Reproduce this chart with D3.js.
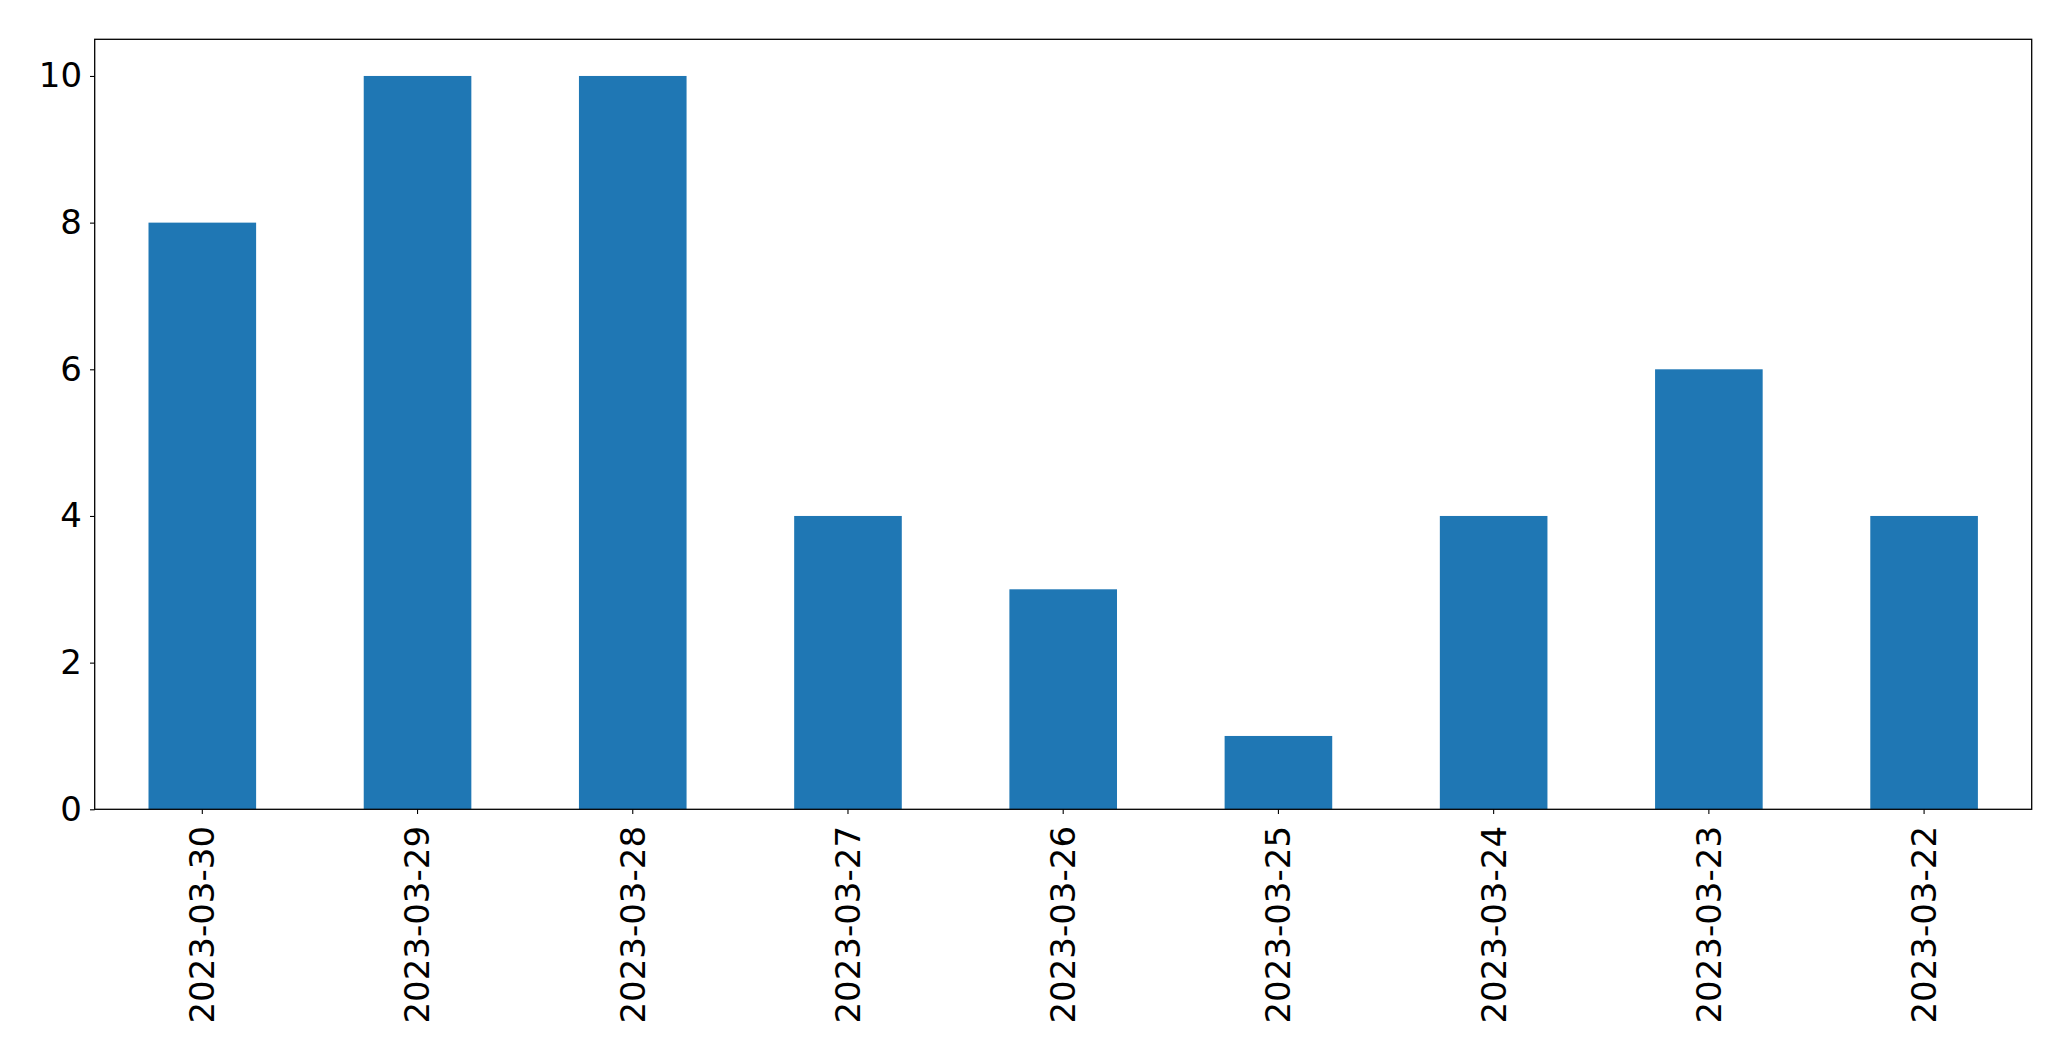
<!DOCTYPE html>
<html>
<head>
<meta charset="utf-8">
<script src="https://cdn.jsdelivr.net/npm/d3@7"></script>
<style>
html,body{margin:0;padding:0;background:#fff;}
svg{display:block;}
text{font-family:"DejaVu Sans",sans-serif;}
</style>
</head>
<body>
<svg id="chart" width="2071" height="1061"></svg>
<script>
const categories = ["2023-03-30","2023-03-29","2023-03-28","2023-03-27","2023-03-26","2023-03-25","2023-03-24","2023-03-23","2023-03-22"];
const values = [8, 10, 10, 4, 3, 1, 4, 6, 4];
const yTicks = [0, 2, 4, 6, 8, 10];

const W = 2071, H = 1061;
const m = {left: 94.7, right: W - 2031.7, top: 39.3, bottom: H - 809.3};
const iw = W - m.left - m.right, ih = H - m.top - m.bottom;

const svg = d3.select("#chart");
const g = svg.append("g").attr("transform", `translate(${m.left},${m.top})`);

const x = d3.scaleBand().domain(categories).range([0, iw]).paddingInner(0.5).paddingOuter(0.25);
const y = d3.scaleLinear().domain([0, 10.5]).range([ih, 0]);

g.selectAll("rect.bar").data(values).enter().append("rect")
  .attr("class","bar")
  .attr("x", (d,i) => x(categories[i]))
  .attr("width", x.bandwidth())
  .attr("y", d => y(d))
  .attr("height", d => ih - y(d))
  .attr("fill", "#1f77b4");

const yAxis = g.append("g").call(d3.axisLeft(y).tickValues(yTicks).tickFormat(d3.format("d")).tickSizeInner(4.7).tickSizeOuter(0).tickPadding(8));
yAxis.select(".domain").remove();
yAxis.selectAll("line").attr("stroke","#000").attr("stroke-width",1.1);
yAxis.selectAll("text").attr("font-size","34px").attr("fill","#000").attr("font-family","DejaVu Sans");

const xAxis = g.append("g").attr("transform", `translate(0,${ih})`)
  .call(d3.axisBottom(x).tickSizeInner(4.7).tickSizeOuter(0).tickPadding(0));
xAxis.select(".domain").remove();
xAxis.selectAll("line").attr("stroke","#000").attr("stroke-width",1.1);
xAxis.selectAll("text")
  .attr("font-size","34px").attr("fill","#000").attr("font-family","DejaVu Sans")
  .attr("transform","rotate(-90)")
  .attr("x", -16.7).attr("y", 0).attr("dy","0.35em")
  .style("text-anchor","end");

g.append("rect").attr("x",0).attr("y",0).attr("width",iw).attr("height",ih)
  .attr("fill","none").attr("stroke","#000").attr("stroke-width",1.3);
</script>
</body>
</html>
